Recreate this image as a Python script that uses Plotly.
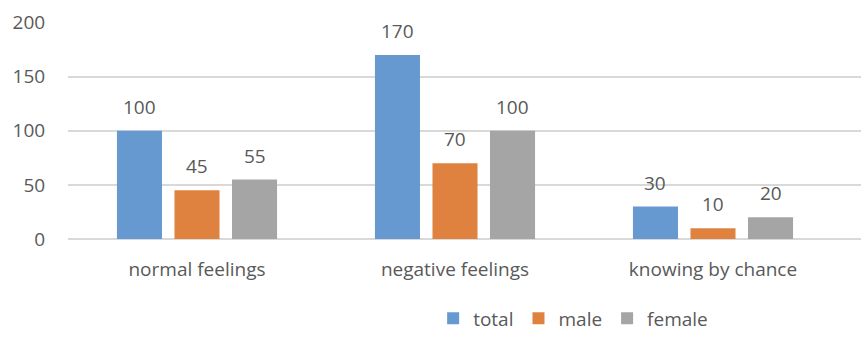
import plotly.graph_objects as go

categories = ["normal feelings", "negative feelings", "knowing by chance"]
series_names = ["total", "male", "female"]
total = [100, 170, 30]
male = [45, 70, 10]
female = [55, 100, 20]
y_ticks = [0, 50, 100, 150, 200]

colors = ["#6699D0", "#E0823F", "#A5A5A5"]
text_color = "#595959"
grid_color = "#D9D9D9"
font_family = "Open Sans, Liberation Sans, sans-serif"
font_size = 19

W, H = 861, 347
M_L, M_R, M_T, M_B = 68, 0, 22, 108
cat_px = 258.0  # pixel width of one category slot
plot_w = W - M_L - M_R
x_range = [-0.5, -0.5 + plot_w / cat_px]

bargap = 0.331
bargroupgap = 0.217

fig = go.Figure()
series = [total, male, female]
for name, vals, col in zip(series_names, series, colors):
    fig.add_trace(go.Bar(
        x=categories, y=vals, name=name,
        marker=dict(color=col, line=dict(width=0)),
        hoverinfo="skip",
    ))

# value labels above each bar, shifted to its slot within the group
slot_px = cat_px * (1 - bargap) / len(series)
for j, vals in enumerate(series):
    shift = (j - (len(series) - 1) / 2) * slot_px
    for cat, v in zip(categories, vals):
        fig.add_annotation(
            x=cat, y=v, xref="x", yref="y",
            text=str(v), showarrow=False,
            xshift=shift, yshift=24,
            font=dict(family=font_family, size=font_size, color=text_color),
        )

fig.update_layout(
    width=W, height=H,
    margin=dict(l=M_L, r=M_R, t=M_T, b=M_B),
    plot_bgcolor="white", paper_bgcolor="white",
    barmode="group", bargap=bargap, bargroupgap=bargroupgap,
    font=dict(family=font_family, size=font_size, color=text_color),
    showlegend=True,
    legend=dict(
        orientation="h", x=0.637, xanchor="center",
        y=-0.366, yanchor="middle",
        font=dict(family=font_family, size=font_size, color=text_color),
        itemwidth=30, traceorder="normal",
    ),
    xaxis=dict(
        type="category", range=x_range, showgrid=False,
        showline=False, ticks="outside", ticklen=13, tickcolor="rgba(0,0,0,0)",
        tickfont=dict(family=font_family, size=font_size, color=text_color),
    ),
    yaxis=dict(
        range=[0, 200.6], tickvals=y_ticks, showgrid=True,
        gridcolor=grid_color, gridwidth=1.5,
        zeroline=True, zerolinecolor=grid_color, zerolinewidth=1.5,
        showline=False, ticks="outside", ticklen=18, tickcolor="rgba(0,0,0,0)",
        tickfont=dict(family=font_family, size=font_size, color=text_color),
    ),
)

fig.write_html("out.html")
